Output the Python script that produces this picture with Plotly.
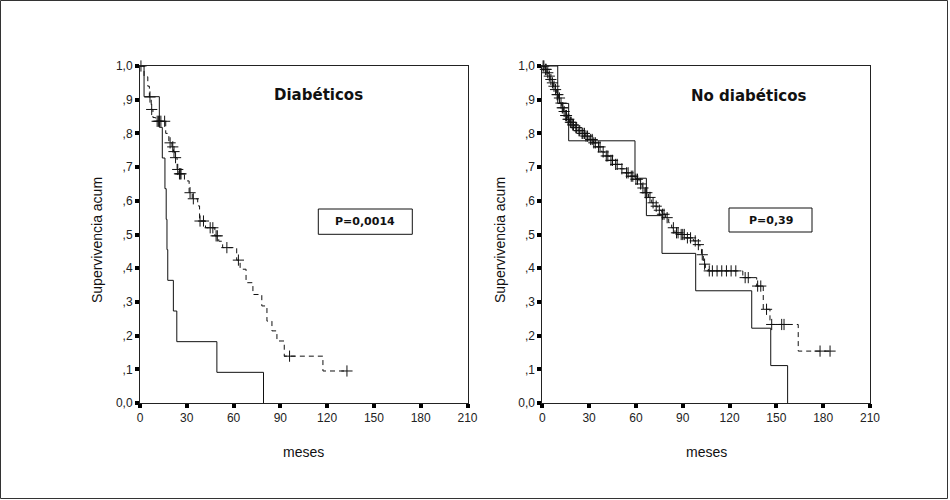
import numpy as np
import plotly.graph_objects as go

W, H = 950, 500

# ---------------- data ----------------
# Left panel: Diabéticos
diab_a_t = [0, 2.6, 12.4, 14.3, 16.0, 16.8, 17.3, 17.8, 21.4, 23.6, 49.3, 79.2]
diab_a_s = [1.0, 0.909, 0.818, 0.727, 0.636, 0.545, 0.455, 0.364, 0.273, 0.182, 0.091, 0.0]

diab_b_t = [0, 2.6, 5.0, 6.0, 7.2, 8.3, 10.0, 16.5, 18.5, 20.5, 21.5, 22.3, 23.8, 25.0,
            28.5, 31.5, 33.5, 37.0, 38.2, 42.0, 48.0, 50.5, 53.0, 62.0, 64.2, 68.0,
            72.4, 78.1, 81.4, 84.6, 87.8, 92.5, 117.3]
diab_b_s = [1.0, 0.968, 0.94, 0.908, 0.871, 0.847, 0.836, 0.80, 0.772, 0.76, 0.746, 0.728,
            0.693, 0.680, 0.659, 0.624, 0.606, 0.585, 0.540, 0.52, 0.496, 0.48, 0.461,
            0.424, 0.397, 0.357, 0.322, 0.288, 0.243, 0.214, 0.184, 0.139, 0.095]
diab_b_cens = [0.6, 6.4, 7.5, 11.0, 11.8, 12.6, 13.4, 15.8, 19.3, 21.0, 21.8, 22.8, 24.2,
               25.3, 25.8, 26.3, 32.1, 34.2, 38.5, 40.7, 45.0, 46.7, 48.8, 49.6, 55.7,
               63.1, 95.9, 132.7]

# Right panel: No diabéticos
nodiab_a_t = [0, 9.9, 16.9, 59.4, 66.7, 76.7, 98.3, 134.2, 146.4, 157.2]
nodiab_a_s = [1.0, 0.889, 0.778, 0.667, 0.556, 0.444, 0.333, 0.222, 0.111, 0.0]

nodiab_b_t = [0, 1.7, 3.0, 4.0, 5.0, 6.2, 7.0, 8.0, 9.0, 10.3, 11.3, 12.4, 13.5, 14.8,
              16.0, 17.5, 19.0, 21.0, 23.0, 25.0, 27.4, 30.0, 32.7, 35.0, 38.0, 40.0,
              43.0, 46.6, 50.0, 53.0, 56.0, 59.4, 62.0, 64.0, 65.8, 68.0, 70.1, 72.0,
              74.0, 76.5, 79.0, 81.0, 82.9, 85.0, 88.0, 92.0, 96.8, 99.0, 101.0, 102.0,
              103.2, 104.5, 106.4, 128.5, 137.4, 141.6, 145.9, 164.0]
nodiab_b_s = [1.0, 0.99, 0.98, 0.97, 0.96, 0.95, 0.94, 0.93, 0.915, 0.905, 0.89, 0.876,
              0.865, 0.853, 0.842, 0.833, 0.825, 0.817, 0.808, 0.800, 0.792, 0.782, 0.772,
              0.76, 0.745, 0.733, 0.72, 0.708, 0.695, 0.683, 0.673, 0.664, 0.65, 0.638,
              0.624, 0.61, 0.594, 0.584, 0.572, 0.56, 0.55, 0.535, 0.52, 0.505, 0.5,
              0.49, 0.481, 0.47, 0.456, 0.44, 0.412, 0.40, 0.392, 0.372, 0.347, 0.278,
              0.233, 0.154]
nodiab_b_cens = [0.5, 1.0, 2.0, 2.5, 3.5, 4.5, 5.5, 6.5, 7.5, 8.5, 9.5, 10.0, 11.0, 12.0,
                 12.8, 13.2, 14.0, 15.0, 15.5, 16.5, 17.0, 18.0, 18.5, 19.5, 20.0, 21.5,
                 22.0, 23.5, 24.0, 25.5, 26.0, 27.0, 28.0, 29.0, 31.0, 32.0, 33.0, 34.0,
                 36.0, 37.0, 39.0, 41.0, 42.0, 44.0, 45.0, 47.0, 48.0, 51.0, 54.0, 55.0,
                 57.0, 58.0, 60.0, 61.0, 63.0, 64.5, 66.0, 67.0, 69.0, 71.0, 73.0, 75.0,
                 77.0, 78.0, 80.0, 84.0, 86.0, 87.0, 89.0, 90.0, 91.0, 93.0, 95.0, 98.0,
                 100.0, 102.5, 104.0, 107.0, 109.0, 112.0, 115.0, 118.0, 121.0, 124.0,
                 130.0, 132.0, 138.0, 140.0, 143.7, 147.0, 153.4, 154.9, 178.0, 184.4]

x_ticks = [0, 30, 60, 90, 120, 150, 180, 210]
y_ticks = [0.0, 0.1, 0.2, 0.3, 0.4, 0.5, 0.6, 0.7, 0.8, 0.9, 1.0]
y_ticktext = ["0,0", ",1", ",2", ",3", ",4", ",5", ",6", ",7", ",8", ",9", "1,0"]

panel_titles = ["Diabéticos", "No diabéticos"]
p_values = ["P=0,0014", "P=0,39"]
x_title = "meses"
y_title = "Supervivencia acum"

# ---------------- helpers ----------------
def step_at(t, s, c):
    t = np.asarray(t); s = np.asarray(s)
    idx = np.searchsorted(t, np.asarray(c), side="right") - 1
    return s[idx]

LINE = "#111111"
AX = "#222222"
FONT = "Arial, Liberation Sans, sans-serif"

fig = go.Figure()

def add_panel(xa, ya, a_t, a_s, b_t, b_s, b_cens):
    fig.add_trace(go.Scatter(x=a_t, y=a_s, mode="lines", line=dict(shape="hv", color=LINE, width=1),
                             xaxis=xa, yaxis=ya, showlegend=False, hoverinfo="skip"))
    bx = list(b_t) + [max(b_cens)]
    by = list(b_s) + [b_s[-1]]
    fig.add_trace(go.Scatter(x=bx, y=by, mode="lines",
                             line=dict(shape="hv", color=LINE, width=1, dash="5px,4px"),
                             xaxis=xa, yaxis=ya, showlegend=False, hoverinfo="skip"))
    fig.add_trace(go.Scatter(x=b_cens, y=step_at(b_t, b_s, b_cens), mode="markers",
                             marker=dict(symbol="cross-thin", size=8, line=dict(color=LINE, width=1)),
                             cliponaxis=False, xaxis=xa, yaxis=ya, showlegend=False, hoverinfo="skip"))

add_panel("x", "y", diab_a_t, diab_a_s, diab_b_t, diab_b_s, diab_b_cens)
add_panel("x2", "y2", nodiab_a_t, nodiab_a_s, nodiab_b_t, nodiab_b_s, nodiab_b_cens)

y_dom = [1 - 403 / H, 1 - 66 / H]
xd1 = [140 / W, 467.5 / W]
xd2 = [542.3 / W, 870 / W]

axis_common = dict(showgrid=False, zeroline=False, showline=True, mirror=True, linecolor=AX,
                   linewidth=1, ticks="outside", ticklen=4, tickwidth=4, tickcolor="#000000",
                   tickfont=dict(family=FONT, size=12, color="#222222"), fixedrange=True,
                   automargin=False)

fig.update_layout(
    width=W, height=H, margin=dict(l=0, r=0, t=0, b=0, pad=0, autoexpand=False),
    paper_bgcolor="white", plot_bgcolor="white",
    xaxis=dict(domain=xd1, range=[0, 210], tickvals=x_ticks, anchor="y", **axis_common),
    yaxis=dict(domain=y_dom, range=[0, 1], tickvals=y_ticks, ticktext=y_ticktext, anchor="x", **axis_common),
    xaxis2=dict(domain=xd2, range=[0, 210], tickvals=x_ticks, anchor="y2", **axis_common),
    yaxis2=dict(domain=y_dom, range=[0, 1], tickvals=y_ticks, ticktext=y_ticktext, anchor="x2", **axis_common),
)

def anno(px, py, text, size, family, angle=0, bold=False):
    return dict(x=px / W, y=1 - py / H, xref="paper", yref="paper",
                xanchor="center", yanchor="middle", textangle=angle,
                text=("<b>%s</b>" % text) if bold else text, showarrow=False,
                font=dict(family=family, size=size, color="#111111"))

annos = [
    anno(318.8, 95, panel_titles[0], 15, "DejaVu Sans", bold=True),
    anno(749, 96, panel_titles[1], 15, "DejaVu Sans", bold=True),
    anno(365.3, 221.7, p_values[0], 11, "DejaVu Sans", bold=True),
    anno(770.5, 220.5, p_values[1], 11, "DejaVu Sans", bold=True),
    anno(303.5, 452, x_title, 14, FONT),
    anno(706.2, 452, x_title, 14, FONT),
    anno(97, 240, y_title, 14, FONT, angle=-90),
    anno(500, 240, y_title, 14, FONT, angle=-90),
]
fig.update_layout(annotations=annos)

shapes = [
    dict(type="rect", xref="paper", yref="paper", x0=318.3 / W, x1=412.3 / W, y0=1 - 234.3 / H, y1=1 - 209 / H,
         line=dict(color="#111111", width=1)),
    dict(type="rect", xref="paper", yref="paper", x0=729 / W, x1=812 / W, y0=1 - 232 / H, y1=1 - 208 / H,
         line=dict(color="#111111", width=1)),
    dict(type="rect", xref="paper", yref="paper", x0=0.5 / W, x1=947.5 / W, y0=1.5 / H, y1=1 - 0.5 / H,
         line=dict(color="#333333", width=1)),
]
fig.update_layout(shapes=shapes)

fig.write_html("out.html", config={"displayModeBar": False, "staticPlot": True},
               post_script="document.body.style.margin='0';document.body.style.overflow='hidden';")
